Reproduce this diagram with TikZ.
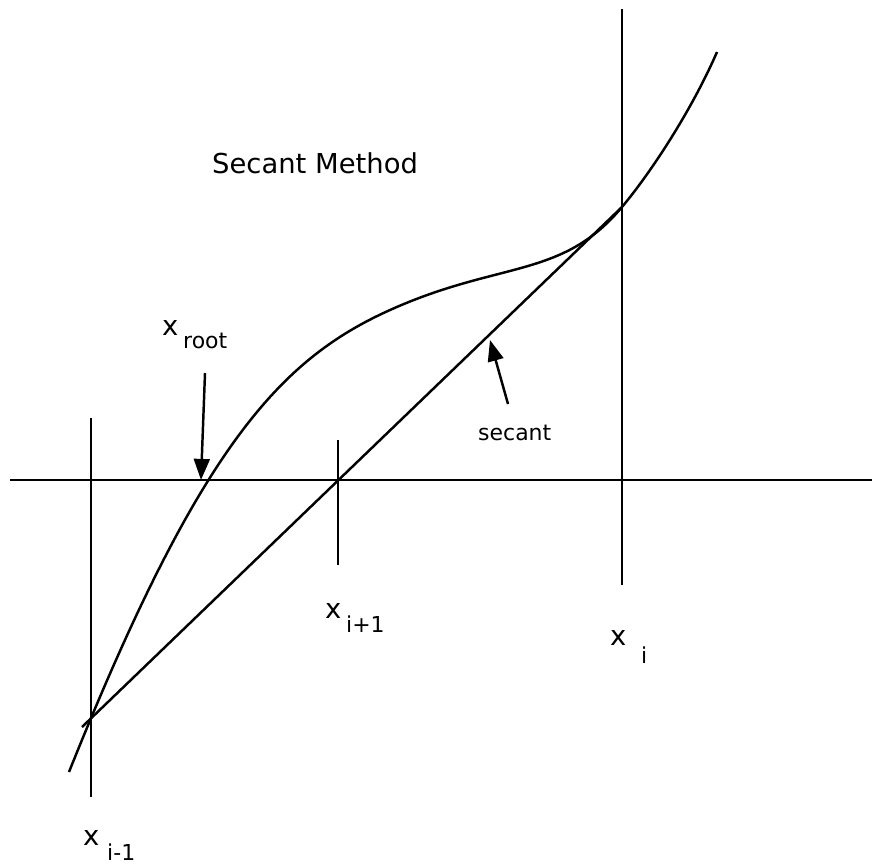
\documentclass[tikz,border=0pt]{standalone}
\usepackage{fontspec}
\setmainfont{DejaVu Sans}
\usetikzlibrary{arrows.meta}

\begin{document}
\begin{tikzpicture}[x=0.02cm,y=-0.02cm,line width=1.4pt,
  lbl/.style={font=\fontsize{15.6}{18}\selectfont,anchor=base west,inner sep=0pt},
  sublbl/.style={font=\fontsize{12.5}{15}\selectfont,anchor=base west,inner sep=0pt},
  pointer/.style={-{Triangle[length=12pt,width=9pt]}}]
  \useasboundingbox (0,0) rectangle (872,863);

  % points used by the lines
  \coordinate (xprev) at (91,716);
  \coordinate (xcur) at (622,207);
  \coordinate (xnext) at (338,480);
  \coordinate (root) at (201,480);
  \coordinate (seclow) at (82,727);
  \coordinate (rootfrom) at (205,373);
  \coordinate (secfrom) at (508,404);
  \coordinate (secto) at (490,340);

  % axis and the three abscissae
  \draw (10,480) -- (872,480);
  \draw (91,418) -- (91,797);
  \draw (338,440) -- (338,565);
  \draw (622,9) -- (622,585);

  % function
  \draw (69,772) .. controls (199,447) and (280,359.5) .. (390,310)
    .. controls (500,260.5) and (562,279) .. (xcur)
    .. controls (652,171) and (692,109.5) .. (717,52);

  % secant line
  \draw (seclow) -- (xcur);

  % labels
  \node[lbl] (title) at (211,173) {Secant Method};
  \node[lbl] (xr) at (161,335) {x};
  \node[sublbl] (xrsub) at (182,348) {root};
  \node[lbl] (xn) at (324,618) {x};
  \node[sublbl] (xnsub) at (345,632) {i+1};
  \node[lbl] (xp) at (82,845) {x};
  \node[sublbl] (xpsub) at (106,860) {i-1};
  \node[lbl] (xc) at (609,645) {x};
  \node[sublbl] (xcsub) at (640,663) {i};
  \node[sublbl] (seclbl) at (477,440) {secant};

  % pointers
  \draw[pointer] (rootfrom) -- (root);
  \draw[pointer] (secfrom) -- (secto);
\end{tikzpicture}
\end{document}
